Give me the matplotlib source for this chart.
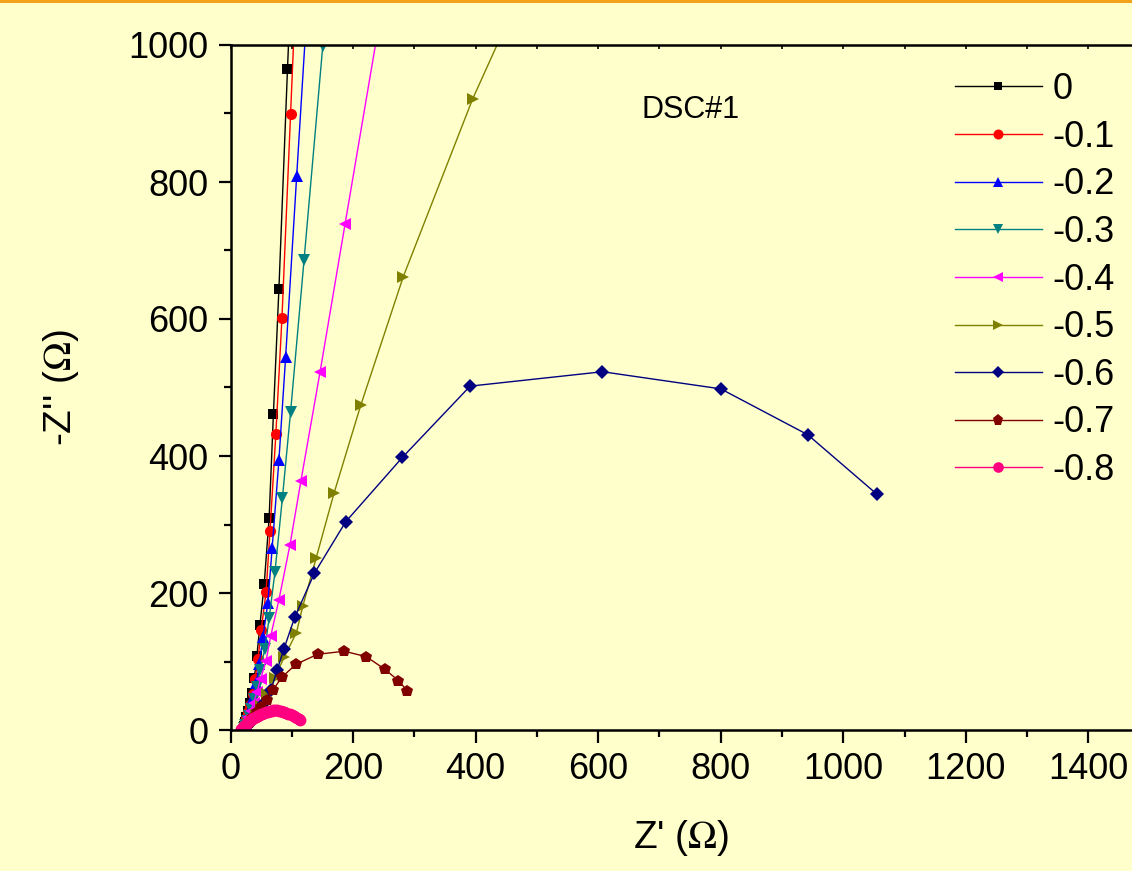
import matplotlib
matplotlib.use("Agg")
import matplotlib.pyplot as plt
from matplotlib.patches import Rectangle
from matplotlib.ticker import MultipleLocator

plt.rcParams["font.family"] = ["Liberation Sans", "DejaVu Sans"]
plt.rcParams["mathtext.fontset"] = "stix"

# ------------------------------------------------ data ---------------------------------------------#

labels = ["0", "-0.1", "-0.2", "-0.3", "-0.4", "-0.5", "-0.6", "-0.7", "-0.8"]

x_0 = [22, 24, 26, 29, 32, 35, 39, 43, 48, 55, 63, 70, 79, 93, 115]
y_0 = [6, 12, 19, 28, 39, 54, 76, 108, 153, 213, 309, 461, 644, 965, 1450]

x_01 = [22, 24, 26, 29, 32, 36, 40, 45, 50, 58, 64.5, 74, 84, 98, 117]
y_01 = [5, 10, 17, 26, 37, 52, 74, 104, 146, 201, 291, 432, 602, 899, 1300]

x_02 = [22, 25, 27, 30, 33, 37, 42, 47, 53, 61, 68, 79, 90, 108, 135]
y_02 = [4, 9, 15, 23, 34, 48, 68, 97, 136, 186, 266, 394, 545, 809, 1200]

x_03 = [22, 24, 27, 30, 34, 38, 43, 48, 56, 63, 72.6, 84.6, 98, 120, 150.5]
y_03 = [3, 7, 13, 21, 31, 45, 63, 88, 118, 163, 231, 338, 464, 686, 998]

x_04 = [21, 23, 26, 29, 33, 38, 43, 49, 58, 65.6, 79, 97, 115, 146, 187, 246]
y_04 = [2, 6, 12, 19, 28, 40, 55, 74, 101, 137, 190, 270, 364, 522, 739, 1050]

x_05 = [24, 29, 35, 42, 50, 60, 72, 88, 107.5, 118, 139.6, 169, 212.5, 282, 395, 536]
y_05 = [3, 7, 13, 22, 35, 52, 76, 107, 142, 181, 250.6, 346, 474, 662, 921, 1200]

x_06 = [25, 31, 38, 46, 55, 66, 76, 87, 105, 137, 188, 280.5, 391, 607, 800, 942, 1055]
y_06 = [4, 9, 16, 26, 40, 58, 87, 118, 165, 229, 304, 398, 502, 523, 498, 431, 344]

x_07 = [25, 30, 37, 43, 49, 59, 69, 83.6, 107, 142, 185.8, 221.7, 252, 274, 288.7]
y_07 = [4, 10, 19, 26, 33, 44, 58, 77, 96, 110.5, 115, 107, 88.6, 72, 57]

x_08 = [17, 18, 19, 20, 21, 22, 23, 25, 27, 29, 31, 33, 35, 37, 39, 41, 43, 45, 47, 49, 52, 55, 58, 61, 64,
        67, 70, 73, 76, 79, 82, 85, 88, 91, 94, 97, 100, 103, 106, 109, 112, 114]
y_08 = [1, 2, 2, 3, 4, 5, 6, 8, 10, 12, 13, 15, 16, 17, 18, 19, 20, 21, 22, 23, 24, 25, 26, 27, 27.5,
        28, 28.5, 28.5, 28.5, 28, 27.5, 27, 26, 25, 24, 23, 21.5, 20, 18.5, 17, 15.5, 14]

xs = [x_0, x_01, x_02, x_03, x_04, x_05, x_06, x_07, x_08]
ys = [y_0, y_01, y_02, y_03, y_04, y_05, y_06, y_07, y_08]

colors = ["black", "#FF0000", "#0000FF", "#008080", "#FF00FF", "#808000", "#000080", "#800000", "#FF0080"]
markers = ["s", "o", "^", "v", "<", ">", "D", "p", "o"]
sizes = [7, 8, 8.5, 8.5, 8.5, 8.5, 7, 9, 8.5]

# ------------------------------------------------ figure ---------------------------------------------------------------#

bg = "#FFFFCC"
fig = plt.figure(figsize=(11.32, 8.71), dpi=100, facecolor=bg)
ax = fig.add_axes([230.5 / 1132, 1 - 730 / 871, 1 - 230.5 / 1132, (730 - 45) / 871])
ax.set_facecolor(bg)

for x, y, c, m, s, lab in zip(xs, ys, colors, markers, sizes, labels):
    ax.plot(x, y, color=c, marker=m, markersize=s, linewidth=1.0, label=lab,
            markeredgewidth=0)

ax.set_xlim(0, 1471)
ax.set_ylim(0, 1000)
ax.xaxis.set_major_locator(MultipleLocator(200))
ax.xaxis.set_minor_locator(MultipleLocator(100))
ax.yaxis.set_major_locator(MultipleLocator(200))
ax.yaxis.set_minor_locator(MultipleLocator(100))

for side in ["left", "bottom", "top"]:
    ax.spines[side].set_linewidth(1.8)
ax.spines["right"].set_visible(False)

ax.tick_params(which="major", direction="out", length=9, width=1.6, labelsize=26, pad=7)
ax.tick_params(which="minor", direction="out", length=5, width=1.6)

top = ax.secondary_xaxis("top")
top.xaxis.set_major_locator(MultipleLocator(100))
top.tick_params(direction="in", length=3, width=1.2, labeltop=False)
top.spines["top"].set_visible(False)

ax.set_xlabel(r"Z' ($\Omega$)", fontsize=28, labelpad=22)
ax.set_ylabel(r"-Z'' ($\Omega$)", fontsize=28, labelpad=34)

ax.text(750, 905, "DSC#1", fontsize=22, ha="center", va="center")

ax.legend(loc="upper left", bbox_to_anchor=(955 / 1132, 1 - 72 / 871), bbox_transform=fig.transFigure,
          frameon=False, fontsize=26, numpoints=1, handlelength=2.4, handletextpad=0.3,
          labelspacing=0.35, borderpad=0, borderaxespad=0, markerscale=0.9)

# orange strip at top edge
fig.add_artist(Rectangle((0, 1 - 3 / 871), 1, 3 / 871, transform=fig.transFigure, color="#F5A21B", lw=0))

fig.savefig("out.png", dpi=100, facecolor=bg)
